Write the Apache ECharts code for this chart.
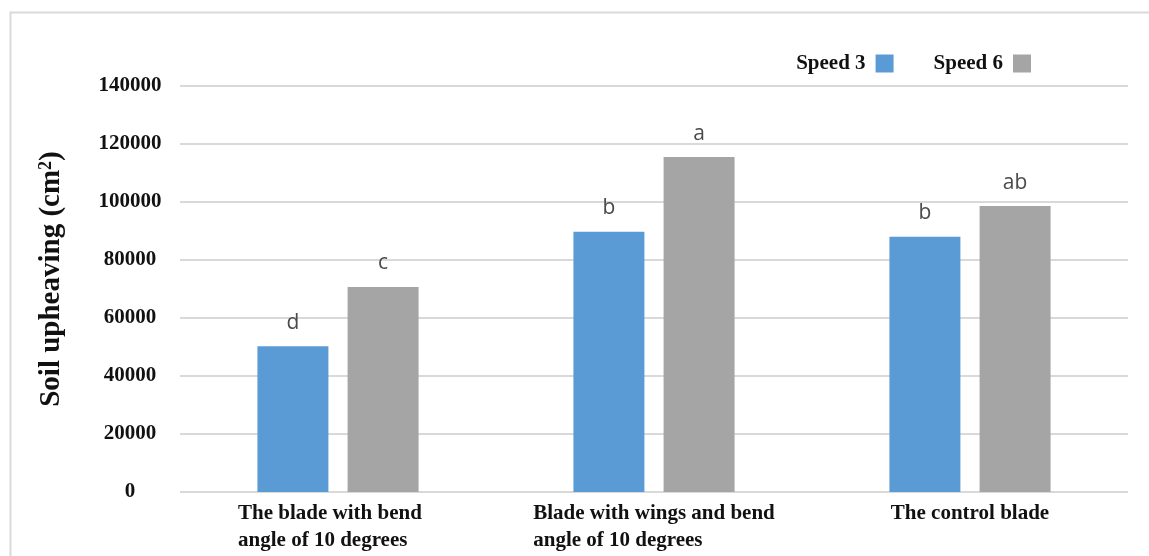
<!DOCTYPE html>
<html>
<head>
<meta charset="utf-8">
<script src="https://cdn.jsdelivr.net/npm/echarts@6/dist/echarts.min.js"></script>
<style>html,body{margin:0;padding:0;background:#fff;}#c{width:1149px;height:556px;}</style>
</head>
<body>
<div id="c"></div>
<script>
const categories = ['The blade with bend\nangle of 10 degrees', 'Blade with wings and bend\nangle of 10 degrees', 'The control blade'];
const seriesNames = ['Speed 3', 'Speed 6'];
const speed3 = [50300, 89700, 88000];
const speed6 = [70700, 115500, 98600];
const letters3 = ['d', 'b', 'b'];
const letters6 = ['c', 'a', 'ab'];
const yTicks = { min: 0, max: 140000, interval: 20000 };

const serif = '"Liberation Serif", "Times New Roman", serif';
const chart = echarts.init(document.getElementById('c'));
chart.setOption({
  animation: false,
  backgroundColor: '#fff',
  graphic: [{
    type: 'rect', left: 8, top: 10, shape: { width: 1160, height: 560 },
    style: { fill: 'none', stroke: '#d9d9d9', lineWidth: 2 }, silent: true, z: -1
  }],
  legend: {
    data: seriesNames,
    right: 113, top: 48,
    align: 'right', icon: 'rect', itemWidth: 18, itemHeight: 18, itemGap: 40,
    textStyle: { fontFamily: serif, fontWeight: 'bold', fontSize: 21, color: '#111', padding: [0, 5, 0, 0] }
  },
  grid: { left: 180, right: 21, top: 86, bottom: 64, containLabel: false },
  xAxis: {
    type: 'category',
    data: categories.map((c, i) => i === 0 ? { value: c, textStyle: { padding: [0, 16, 0, 0] } } : c),
    axisLine: { show: false }, axisTick: { show: false },
    axisLabel: {
      interval: 0, margin: 8,
      fontFamily: serif, fontWeight: 'bold', fontSize: 21, color: '#111', lineHeight: 27,
      formatter: v => v.split('\n').map(s => '{l|' + s + '}').join('\n'),
      rich: { l: { align: 'left', fontFamily: serif, fontWeight: 'bold', fontSize: 21, color: '#111', lineHeight: 27 } }
    }
  },
  yAxis: {
    type: 'value', min: yTicks.min, max: yTicks.max, interval: yTicks.interval,
    name: 'Soil upheaving (cm{sup|2})',
    nameLocation: 'middle', nameGap: 113,
    nameTextStyle: {
      fontFamily: serif, fontWeight: 'bold', fontSize: 29, color: '#111', padding: [0, 0, 0, 20],
      rich: { sup: { fontFamily: serif, fontWeight: 'bold', fontSize: 18, color: '#111', verticalAlign: 'top', padding: [0, 0, 12, 0] } }
    },
    axisLine: { show: false }, axisTick: { show: false },
    axisLabel: { margin: 50, align: 'center', fontFamily: serif, fontWeight: 'bold', fontSize: 21, color: '#111',
      formatter: v => String(v) },
    splitLine: { lineStyle: { color: '#d9d9d9', width: 2 } }
  },
  series: [
    {
      name: seriesNames[0], type: 'bar', data: speed3, barWidth: 71, barGap: '27%',
      itemStyle: { color: '#5b9bd5' },
      label: { show: true, position: 'top', distance: 13, formatter: p => letters3[p.dataIndex],
        fontFamily: '"Open Sans", Lato, sans-serif', fontSize: 21, color: '#4a4a4a' }
    },
    {
      name: seriesNames[1], type: 'bar', data: speed6, barWidth: 71, barGap: '27%',
      itemStyle: { color: '#a5a5a5' },
      label: { show: true, position: 'top', distance: 13, formatter: p => letters6[p.dataIndex],
        fontFamily: '"Open Sans", Lato, sans-serif', fontSize: 21, color: '#4a4a4a' }
    }
  ]
});
</script>
</body>
</html>
